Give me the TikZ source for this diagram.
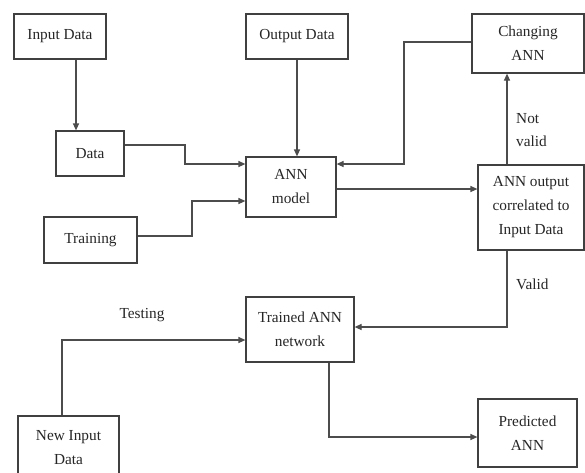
\documentclass[tikz,border=0pt]{standalone}
\usepackage{fontspec}
\setmainfont{Liberation Serif}
\usetikzlibrary{arrows.meta}
\begin{document}
\begin{tikzpicture}[x=1pt,y=-1pt,
  box/.style={draw=black!75,line width=1.2pt,rectangle,inner sep=0pt,align=center,
    font=\fontsize{15.3}{24}\selectfont,text=black!85},
  flow/.style={draw=black!70,line width=1.2pt,-{Triangle[length=7pt,width=6pt]}},
  lbl/.style={font=\fontsize{15.3}{23}\selectfont,text=black!85,inner sep=0pt,align=left}]
\clip (0,0) rectangle (585,472);
\fill[white] (0,0) rectangle (585,472);

% process boxes
\node[box,minimum width=92pt,minimum height=45pt] (input) at (60,36.5) {Input Data};
\node[box,minimum width=102pt,minimum height=45pt] (output) at (297,36.5) {Output Data};
\node[box,minimum width=112pt,minimum height=59pt] (change) at (528,43.5) {Changing\\ANN};
\node[box,minimum width=68pt,minimum height=45pt] (data) at (90,153.5) {Data};
\node[box,minimum width=90pt,minimum height=60pt] (model) at (291,187) {ANN\\model};
\node[box,minimum width=93pt,minimum height=46pt] (train) at (90.5,240) {Training};
\node[box,minimum width=106pt,minimum height=85pt] (corr) at (531,207.5) {ANN output\\correlated to\\Input Data};
\node[box,minimum width=108pt,minimum height=65pt] (trained) at (300,329.5) {Trained ANN\\network};
\node[box,minimum width=101pt,minimum height=64pt] (newin) at (68.5,448) {New Input\\Data};
\node[box,minimum width=99pt,minimum height=68pt] (pred) at (527.5,433) {Predicted\\ANN};

% labels
\node[lbl,anchor=west] (notvalid) at (516,130) {Not\\valid};
\node[lbl,anchor=west] (valid) at (516,284) {Valid};
\node[lbl] (testing) at (142,315) {Testing};

% connectors
\draw[flow] (input.south -| 76,0) -- (data.north -| 76,0);
\draw[flow] (output.south) -- (model.north -| output.south);
\draw[flow] (data.east |- 0,145) -- (185,145) -- (185,164) -- (model.west |- 0,164);
\draw[flow] (train.east |- 0,236) -- (192,236) -- (192,201) -- (model.west |- 0,201);
\draw[flow] (change.west |- 0,42) -- (404,42) -- (404,164) -- (model.east |- 0,164);
\draw[flow] (model.east |- 0,189) -- (corr.west |- 0,189);
\draw[flow] (corr.north -| 507,0) -- (change.south -| 507,0);
\draw[flow] (corr.south -| 507,0) -- (507,327) -- (trained.east |- 0,327);
\draw[flow] (newin.north -| 62,0) -- (62,340) -- (trained.west |- 0,340);
\draw[flow] (trained.south -| 329,0) -- (329,437) -- (pred.west |- 0,437);
\end{tikzpicture}
\end{document}
